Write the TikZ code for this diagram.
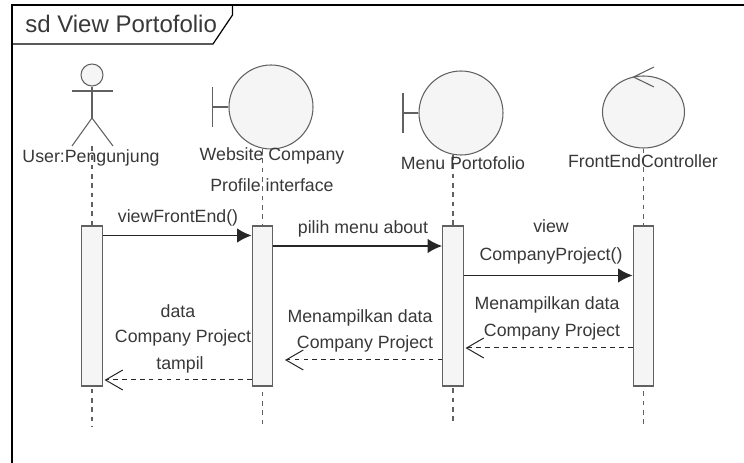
\documentclass[tikz,border=0pt]{standalone}
\usepackage{fontspec}
\setmainfont{Liberation Sans}
\usetikzlibrary{shapes.geometric}
\usetikzlibrary{arrows.meta}

\tikzset{
    part/.style = {draw = black!62, fill = black!4, line width = 0.8pt},
    partline/.style = {draw = black!62, line width = 0.8pt},
    bar/.style = {part, rectangle, minimum width = 15.4pt, minimum height = 120pt, inner sep = 0pt},
    bound/.style = {part, circle, minimum size = 63pt, inner sep = 0pt},
    lifeline/.style = {draw = black!62, line width = 0.8pt, dash pattern = on 3.5pt off 3.5pt},
    call/.style = {draw = black!85, line width = 1.4pt, -{Latex[length = 11pt, width = 11pt]}},
    answer/.style = {draw = black!85, line width = 0.75pt, dash pattern = on 3.5pt off 3.2pt, -{Straight Barb[length = 13pt, width = 15pt]}},
    word/.style = {text = black!78, font = \fontsize{13.3}{15}\selectfont, inner sep = 0pt, yshift = -1pt}
}

\begin{document}
\begin{tikzpicture}[x = 0.75pt, y = -0.75pt]
        \useasboundingbox (0,0) rectangle (744,463);
        % frame
        \draw[line width = 1.1pt] (744,5) -- (12,5) -- (12,463);
        \draw[line width = 0.9pt] (232.5,5) -- (232.5,15) -- (213,44) -- (12,44);
        \node[word, anchor = west, font = \fontsize{18}{20}\selectfont] (title) at (25,23) {sd View Portofolio};

        % heads
        \node[part, circle, minimum size = 16.5pt, inner sep = 0pt] (userhead) at (92,75) {};
        \node[bound] (web) at (271,107) {};
        \node[bound] (menu) at (461,113) {};
        \node[part, ellipse, minimum width = 61.5pt, minimum height = 54pt, inner sep = 0pt] (ctrl) at (643.5,112) {};

        % actor
        \coordinate (userneck) at (92,118);
        \draw[partline] (userhead.south) -- (userneck);
        \draw[partline] (72,91) -- (113,91);
        \draw[partline] (72,146) -- (userneck) -- (113,146);

        % boundary and control marks
        \draw[partline] (212.5,87) -- (212.5,127);
        \draw[partline] (212.5,107) -- (web.west);
        \draw[partline] (403,93) -- (403,133);
        \draw[partline] (403,113) -- (menu.west);
        \draw[partline] (654,67) -- (633.5,77) -- (654,87);

        % lifelines
        \coordinate (userend) at (92,427);
        \coordinate (webend) at (262.5,427);
        \coordinate (menuend) at (453,425);
        \coordinate (ctrlend) at (643.5,428);
        \coordinate (userstart) at (92,146);
        \draw[lifeline] (userstart) -- (userend);
        \draw[lifeline] (262.5,149) -- (webend);
        \draw[lifeline] (453,155) -- (menuend);
        \draw[lifeline] (ctrl.south) -- (ctrlend);

        % bars
        \node[bar] (userbar) at (92,306) {};
        \node[bar] (webbar) at (262.5,306) {};
        \node[bar] (menubar) at (453,306) {};
        \node[bar] (ctrlbar) at (643.5,306) {};

        % names
        \node[word] (username) at (91,157) {User:Pengunjung};
        \node[word] (webname) at (272,155) {Website Company};
        \node[word] (webname2) at (272,184) {Profile interface};
        \node[word] (menuname) at (463,162) {Menu Portofolio};
        \node[word] (ctrlname) at (643,160) {FrontEndController};

        % messages
        \coordinate (tip4) at (465.5,348);
        \coordinate (tip5) at (285,360);
        \coordinate (tip6) at (104.5,380);
        \draw[call] (userbar.east |- 0,235.5) -- (webbar.west |- 0,235.5);
        \draw[call] (webbar.east |- 0,246) -- (menubar.west |- 0,246);
        \draw[call] (menubar.east |- 0,275.5) -- (ctrlbar.west |- 0,275.5);
        \draw[answer] (ctrlbar.west |- 0,348) -- (tip4);
        \draw[answer] (menubar.west |- 0,360) -- (tip5);
        \draw[answer] (webbar.west |- 0,380) -- (tip6);

        \node[word] (m1) at (178,217) {viewFrontEnd()};
        \node[word] (m2) at (363,228) {pilih menu about};
        \node[word] (m3) at (551,225) {view};
        \node[word] (m3b) at (551,255) {CompanyProject()};
        \node[word] (m4) at (547,304) {Menampilkan data};
        \node[word] (m4b) at (552,331) {Company Project};
        \node[word] (m5) at (360,317) {Menampilkan data};
        \node[word] (m5b) at (365,343) {Company Project};
        \node[word] (m6) at (178,310) {data};
        \node[word] (m6b) at (183,337) {Company Project};
        \node[word] (m6c) at (180,364) {tampil};
    \end{tikzpicture}
\end{document}
